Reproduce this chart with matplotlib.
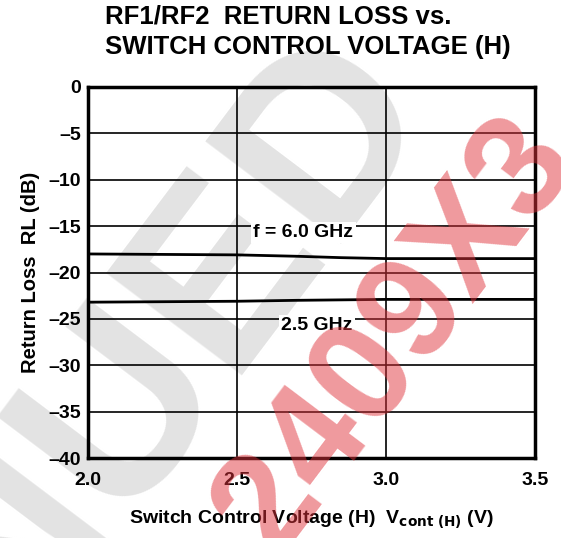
import matplotlib
matplotlib.use('Agg')
import matplotlib.pyplot as plt
import numpy as np

plt.rcParams['font.family'] = ['Liberation Sans', 'DejaVu Sans']

vcont = [2.0, 2.25, 2.5, 2.7, 2.85, 3.0, 3.25, 3.5]
rl_6ghz = [-18.0, -18.05, -18.1, -18.25, -18.4, -18.5, -18.5, -18.5]
rl_25ghz = [-23.2, -23.15, -23.1, -23.0, -22.95, -22.9, -22.9, -22.9]

x_ticks = [2.0, 2.5, 3.0, 3.5]
x_labels = ['2.0', '2.5', '3.0', '3.5']
y_ticks = [0, -5, -10, -15, -20, -25, -30, -35, -40]
y_labels = ['0', '–5', '–10', '–15', '–20', '–25', '–30', '–35', '–40']

W, H = 561, 538
fig = plt.figure(figsize=(W / 100, H / 100), dpi=100)
ax = fig.add_axes([88 / W, 1 - 458 / H, 447 / W, 371 / H])
ax.set_facecolor('none')

# watermarks (gray behind, red on top)
fig.text(382 / W, 1 - 62 / H, 'DISCONTINUED', fontsize=178, color='#e3e3e3', rotation=53,
         rotation_mode='anchor', ha='right', va='center', zorder=-10, fontweight='bold')
fig.text(396 / W, 1 - 336 / H, '2409X3', fontsize=105, color='#e0343c', alpha=0.5, rotation=53,
         rotation_mode='anchor', ha='center', va='center', zorder=20, fontweight='bold')

ax.set_xlim(2.0, 3.5)
ax.set_ylim(-40, 0)
ax.set_xticks(x_ticks)
ax.set_xticklabels(x_labels, fontsize=14, fontweight='bold')
ax.set_yticks(y_ticks)
ax.set_yticklabels(y_labels, fontsize=14, fontweight='bold')
ax.tick_params(axis='x', length=0, pad=10)
ax.tick_params(axis='y', length=0, pad=5)
ax.grid(True, color='black', lw=1.2)
for s in ax.spines.values():
    s.set_linewidth(2.5)

ax.plot(vcont, rl_6ghz, color='black', lw=2)
ax.plot(vcont, rl_25ghz, color='black', lw=2)

ax.text(2.723, -15.7, 'f = 6.0 GHz', fontsize=14, fontweight='bold', ha='center', va='center',
        bbox=dict(facecolor='white', edgecolor='none', pad=1.5))
ax.text(2.768, -25.7, '2.5 GHz', fontsize=14, fontweight='bold', ha='center', va='center',
        bbox=dict(facecolor='white', edgecolor='none', pad=1.5))

ax.set_ylabel('Return Loss  RL (dB)', fontsize=14.5, fontweight='bold', labelpad=6)
ax.set_xlabel(r'Switch Control Voltage (H)  V$_\mathbf{cont\ (H)}$ (V)', fontsize=14,
              fontweight='bold', labelpad=14)

fig.text(105 / W, 1 - 17 / H, 'RF1/RF2  RETURN LOSS vs.', fontsize=18.5, fontweight='bold',
         ha='left', va='center')
fig.text(105 / W, 1 - 47 / H, 'SWITCH CONTROL VOLTAGE (H)', fontsize=18.5, fontweight='bold',
         ha='left', va='center')

fig.savefig('out.png', dpi=100)
